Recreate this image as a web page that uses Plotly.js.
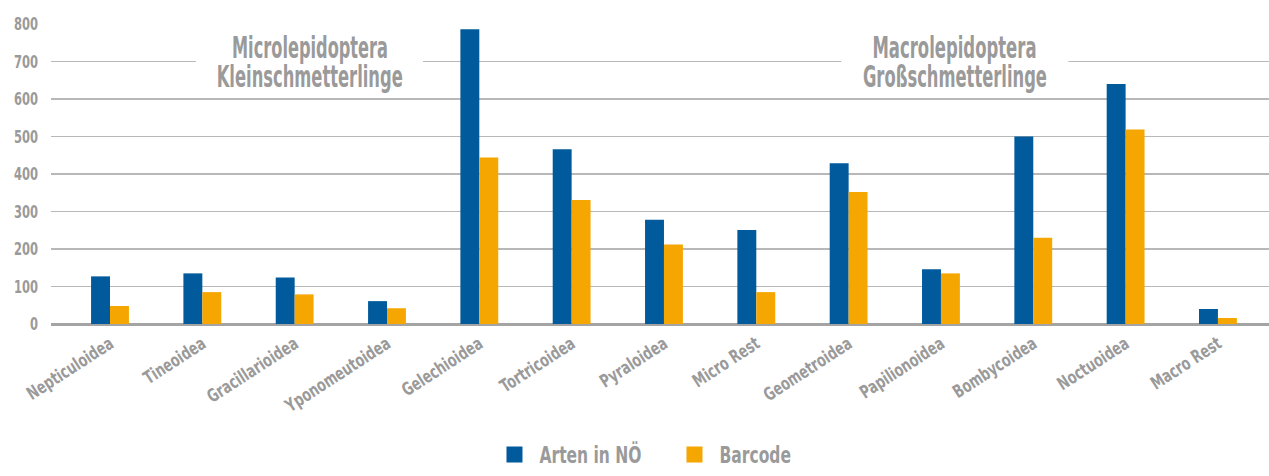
<!DOCTYPE html>
<html><head><meta charset="utf-8">
<script src="https://cdn.plot.ly/plotly-3.0.1.min.js"></script>
<style>html,body{margin:0;padding:0;background:#fff}#chart{width:1269px;height:476px}</style>
</head><body><div id="chart"></div>
<script>
var categories = ["Nepticuloidea","Tineoidea","Gracillarioidea","Yponomeutoidea","Gelechioidea","Tortricoidea","Pyraloidea","Micro Rest","Geometroidea","Papilionoidea","Bombycoidea","Noctuoidea","Macro Rest"];
var artenInNO = [127,135,124,61,786,466,278,251,429,146,500,640,40];
var barcode = [48,85,79,42,444,331,212,85,352,135,230,519,16];
var seriesNames = ["Arten in NÖ","Barcode"];
var yTicks = [0,100,200,300,400,500,600,700,800];
var groupLabels = [["Microlepidoptera","Kleinschmetterlinge"],["Macrolepidoptera","Großschmetterlinge"]];

var FONT = "'DejaVu Sans Condensed', 'DejaVu Sans', sans-serif";
var GREY = "#9a9a9a";
var BLUE = "#005a9c";
var ORANGE = "#f5a600";

var idx = categories.map(function(c,i){return i;});
var traces = [
  {type:"bar", x:idx, y:artenInNO, marker:{color:BLUE}, showlegend:false, hoverinfo:"y"},
  {type:"bar", x:idx, y:barcode, marker:{color:ORANGE}, showlegend:false, hoverinfo:"y"},
  {type:"scatter", mode:"markers", x:[null], y:[null], name:seriesNames[0], marker:{symbol:"square", size:22, color:BLUE}},
  {type:"scatter", mode:"markers", x:[null], y:[null], name:seriesNames[1], marker:{symbol:"square", size:22, color:ORANGE}}
];

function ann(x, y, t) {
  return {x:x, y:y, xref:"x", yref:"y", text:t, showarrow:false,
    font:{family:FONT, size:30, color:GREY, weight:"bold"}, xanchor:"center", yanchor:"middle"};
}

var layout = {
  width:1269, height:476,
  margin:{l:51, r:0, t:24, b:150},
  paper_bgcolor:"#fff", plot_bgcolor:"#fff",
  barmode:"group", bargap:0.59, bargroupgap:0,
  font:{family:FONT, color:GREY, weight:"bold"},
  xaxis:{
    range:[-0.639, 12.553], tickvals:idx, ticktext:categories, tickangle:-33,
    tickfont:{family:FONT, size:18, color:GREY, weight:"bold"}, showgrid:false, zeroline:false,
    showline:false, ticks:"", fixedrange:true, ticklabeloverflow:"allow", automargin:false, ticklabelstandoff:5
  },
  yaxis:{
    range:[0,800], tickvals:yTicks, ticktext:yTicks.map(String),
    tickfont:{family:FONT, size:18, color:GREY, weight:"bold"}, showgrid:true, gridcolor:"#b8b8b8", gridwidth:1.5,
    zeroline:true, zerolinecolor:"#a4a4a4", zerolinewidth:3, ticks:"", ticklabelstandoff:12, fixedrange:true, automargin:false
  },
  legend:{orientation:"h", x:0.36, xanchor:"left", y:-0.437, yanchor:"middle",
    font:{family:FONT, size:23, color:GREY, weight:"bold"}, itemwidth:40, entrywidth:125, entrywidthmode:"pixels",
    traceorder:"normal", itemsizing:"trace"},
  shapes:[
    {type:"rect", layer:"above", xref:"x", yref:"y", x0:0.93, x1:3.39, y0:665, y1:735, fillcolor:"#ffffff", line:{width:0}},
    {type:"rect", layer:"above", xref:"x", yref:"y", x0:7.92, x1:10.38, y0:665, y1:735, fillcolor:"#ffffff", line:{width:0}}
  ],
  annotations:[
    ann(2.166, 737, groupLabels[0][0]), ann(2.166, 659, groupLabels[0][1]),
    ann(9.15, 737, groupLabels[1][0]), ann(9.15, 659, groupLabels[1][1])
  ]
};

// narrow (condensed) look of the original typeface, done by compressing real SVG text
var annWidths = {"Microlepidoptera":156, "Kleinschmetterlinge":186, "Macrolepidoptera":164, "Großschmetterlinge":184};
function squeeze(nodes, factor) {
  nodes.forEach(function(n){
    var w = n.getComputedTextLength();
    n.setAttribute("textLength", (w*factor).toFixed(1));
    n.setAttribute("lengthAdjust", "spacingAndGlyphs");
  });
}
function refFactor(nodes, text, target) {
  for (var i=0;i<nodes.length;i++) if (nodes[i].textContent === text) return target / nodes[i].getComputedTextLength();
  return 0.78;
}
Plotly.newPlot("chart", traces, layout, {displayModeBar:false, staticPlot:true}).then(function(gd){
  var xt = Array.prototype.slice.call(gd.querySelectorAll(".xtick text"));
  var yt = Array.prototype.slice.call(gd.querySelectorAll(".ytick text"));
  var lt = Array.prototype.slice.call(gd.querySelectorAll(".legendtext"));
  var at = Array.prototype.slice.call(gd.querySelectorAll(".annotation-text"));
  squeeze(xt, refFactor(xt, "Nepticuloidea", 99));
  squeeze(yt, refFactor(yt, "800", 24));
  squeeze(lt, refFactor(lt, "Arten in NÖ", 102));
  at.forEach(function(n){
    var t = annWidths[n.textContent];
    if (t) { n.setAttribute("textLength", t); n.setAttribute("lengthAdjust", "spacingAndGlyphs"); }
  });
});
</script>
</body></html>
